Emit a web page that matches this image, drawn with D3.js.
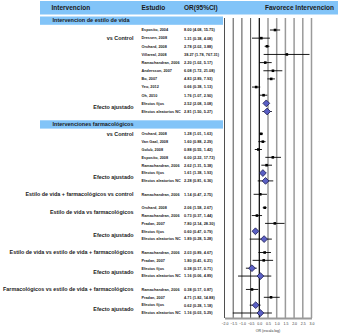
<!DOCTYPE html>
<html>
<head>
<meta charset="utf-8">
<script src="https://cdn.jsdelivr.net/npm/d3@7"></script>
<style>
  body { margin: 0; background: #fff; }
  svg { display: block; font-family: "Liberation Sans", Arial, sans-serif; }
</style>
</head>
<body>
<svg id="chart" width="339" height="336"></svg>
<script>
// --- data ---
const sections = ["Intervencion de estilo de vida", "Intervenciones farmacológicos"];
const comparisons = [
  "vs Control",
  "vs Control",
  "Estilo de vida + farmacológicos vs control",
  "Estilo de vida vs farmacológicos",
  "Estilo de vida vs estilo de vida + farmacológicos",
  "Farmacológicos vs estilo de vida + farmacológicos"
];
const comparisonSection = [0, 1, 1, 1, 1, 1];

const studies = [
  "Esposito, 2004", "Dressen, 2008", "Orchard, 2008", "Villareal, 2008", "Ramachandran, 2006",
  "Andersson, 2007", "Bo, 2007", "Yeo, 2012", "Oh, 2010", "Efectos fijos", "Efectos aleatorios NC",
  "Orchard, 2008", "Van Gaal, 2008", "Golub, 2008", "Esposito, 2008", "Ramachandran, 2006",
  "Efectos fijos", "Efectos aleatorios NC",
  "Ramachandran, 2006",
  "Orchard, 2008", "Ramachandran, 2006", "Pradan, 2007", "Efectos fijos", "Efectos aleatorios NC",
  "Ramachandran, 2006", "Pradan, 2007", "Efectos fijos", "Efectos aleatorios NC",
  "Ramachandran, 2006", "Pradan, 2007", "Efectos fijos", "Efectos aleatorios NC"
];
const rowComparison = [0,0,0,0,0,0,0,0,0,0,0, 1,1,1,1,1,1,1, 2, 3,3,3,3,3, 4,4,4,4, 5,5,5,5];

const orValues = [8.00, 1.31, 2.78, 38.27, 2.20, 6.08, 4.83, 0.66, 1.76, 2.52, 2.81,
                  1.28, 1.60, 0.88, 6.00, 2.62, 1.61, 2.28,
                  1.14,
                  2.06, 0.73, 7.80, 0.60, 1.89,
                  2.03, 1.80, 0.38, 1.16,
                  0.38, 4.71, 0.62, 1.16];
const ciLow = [4.08, 0.38, 2.02, 1.78, 1.02, 1.72, 2.89, 0.38, 1.07, 2.08, 1.50,
               1.01, 0.88, 0.55, 2.22, 1.31, 1.38, 0.81,
               0.47,
               1.58, 0.37, 2.14, 0.47, 0.28,
               0.89, 0.41, 0.17, 0.06,
               0.17, 1.82, 0.28, 0.03];
const ciHigh = [15.75, 4.08, 3.88, 767.31, 5.17, 21.08, 7.93, 1.13, 2.90, 3.08, 5.27,
                1.63, 2.29, 1.42, 17.72, 5.38, 1.93, 6.36,
                2.75,
                2.67, 1.44, 28.30, 0.79, 5.28,
                4.67, 6.21, 0.71, 4.89,
                0.87, 14.88, 1.18, 5.29];

// row (index into studies) that each comparison label sits on
const labelRows = [1, 11, 18, 19.5, 24, 28];
const adjustedRows = [9.5, 16.5, 22.5, 26.5, 30.5];
const gridExponents = [-2, -1.5, -1, -0.5, 0, 0.5, 1, 1.5, 2, 2.5, 3];

// --- layout ---
const svg = d3.select("#chart");
const blue = "#82c4f8";
const rowH = [8.15, 7.85], groupGap = 13.4, sectionGap = 22.3;

const rowY = [];
let yy = 30;
studies.forEach((s, i) => {
  if (i > 0) {
    const a = rowComparison[i - 1], b = rowComparison[i];
    if (a === b) yy += rowH[comparisonSection[a]];
    else if (comparisonSection[a] === comparisonSection[b]) yy += groupGap;
    else yy += sectionGap;
  }
  rowY.push(yy);
});
const yAt = r => {
  const f = Math.floor(r), t = r - f;
  return t ? rowY[f] + (rowY[f + 1] - rowY[f]) * t : rowY[f];
};

const x = d3.scaleLog().domain([0.01, 1000]).range([224.5, 311.5]);
const plotTop = 18, plotBottom = 318;

// header bar
svg.append("rect").attr("x", 40).attr("y", 1).attr("width", 298).attr("height", 13.5).attr("fill", blue);
const header = [["Intervencion", 51.5], ["Estudio", 141.5], ["OR(95%CI)", 184], ["Favorece Intervencion", 265]];
svg.selectAll(".hdr").data(header).join("text")
    .attr("x", d => d[1])
    .attr("y", 8)
    .attr("dy", "0.35em")
    .attr("font-size", 6.5)
    .attr("font-weight", "bold")
    .attr("fill", "#1a1a1a")
    .text(d => d[0]);

// section bars
sections.forEach((s, k) => {
  const first = rowComparison.findIndex(c => comparisonSection[c] === k);
  const cy = rowY[first] - 9.5;
  svg.append("rect").attr("x", 40).attr("y", cy - 4).attr("width", 183).attr("height", 8.3).attr("fill", blue);
  svg.append("text")
      .attr("x", 52.5).attr("y", cy).attr("dy", "0.35em")
      .attr("font-size", 5.5).attr("font-weight", "bold").attr("fill", "#1a1a1a")
      .text(s);
});

// grid lines
gridExponents.forEach(e => {
  svg.append("line")
      .attr("x1", x(10 ** e)).attr("x2", x(10 ** e))
      .attr("y1", plotTop).attr("y2", plotBottom)
      .attr("stroke", e < 0 ? "#222" : e === 0 ? "#000" : "#9a9a9a")
      .attr("stroke-width", e < 0 ? 0.8 : e === 0 ? 1.2 : 1.5);
});

// axis
const xAxis = d3.axisBottom(x)
    .tickValues(gridExponents.map(e => 10 ** e))
    .tickSize(0)
    .tickSizeOuter(0)
    .tickPadding(5)
    .tickFormat(d => d3.format(".1f")(Math.log10(d)));
const gx = svg.append("g").attr("transform", `translate(0,${plotBottom})`).call(xAxis);
gx.select(".domain").attr("stroke", "#9a9a9a").attr("stroke-width", 2);
gx.selectAll("text").attr("font-size", 3.5).attr("fill", "#333").attr("font-family", "Liberation Sans, Arial, sans-serif");
svg.append("text")
    .attr("x", x(Math.sqrt(10))).attr("y", 332)
    .attr("text-anchor", "middle").attr("font-size", 3.5).attr("fill", "#333")
    .text("OR (escala log)");

// comparison labels
comparisons.forEach((c, k) => {
  svg.append("text")
      .attr("x", 133.5).attr("y", yAt(labelRows[k])).attr("dy", "0.35em")
      .attr("text-anchor", "end").attr("font-size", 5.4).attr("font-weight", "bold").attr("fill", "#1a1a1a")
      .text(c);
});
adjustedRows.forEach(r => {
  svg.append("text")
      .attr("x", 133.5).attr("y", yAt(r)).attr("dy", "0.35em")
      .attr("text-anchor", "end").attr("font-size", 5.4).attr("font-weight", "bold").attr("fill", "#1a1a1a")
      .text("Efecto ajustado");
});

// rows
const fmt = d3.format(".2f");
studies.forEach((s, i) => {
  const y = rowY[i];
  const pooled = s.startsWith("Efectos");
  svg.append("text")
      .attr("x", 141.5).attr("y", y).attr("dy", "0.35em")
      .attr("font-size", 3.8).attr("font-weight", "bold").attr("fill", "#222")
      .text(s);
  svg.append("text")
      .attr("x", 184).attr("y", y).attr("dy", "0.35em")
      .attr("font-size", 3.9).attr("font-weight", "bold").attr("fill", "#222")
      .text(`${fmt(orValues[i])} (${fmt(ciLow[i])}, ${fmt(ciHigh[i])})`);

  svg.append("line")
      .attr("x1", x(ciLow[i])).attr("x2", x(ciHigh[i]))
      .attr("y1", y).attr("y2", y)
      .attr("stroke", "#000").attr("stroke-width", 0.9);

  const cx = x(orValues[i]);
  if (pooled) {
    svg.append("path")
        .attr("d", `M${cx - 3.4},${y} L${cx},${y - 3.4} L${cx + 3.4},${y} L${cx},${y + 3.4} Z`)
        .attr("fill", "#5a5fc4").attr("stroke", "#1c1c50").attr("stroke-width", 0.8);
  } else {
    svg.append("rect")
        .attr("x", cx - 1.3).attr("y", y - 1.3).attr("width", 2.6).attr("height", 2.6)
        .attr("fill", "#000");
  }
});
</script>
</body>
</html>
